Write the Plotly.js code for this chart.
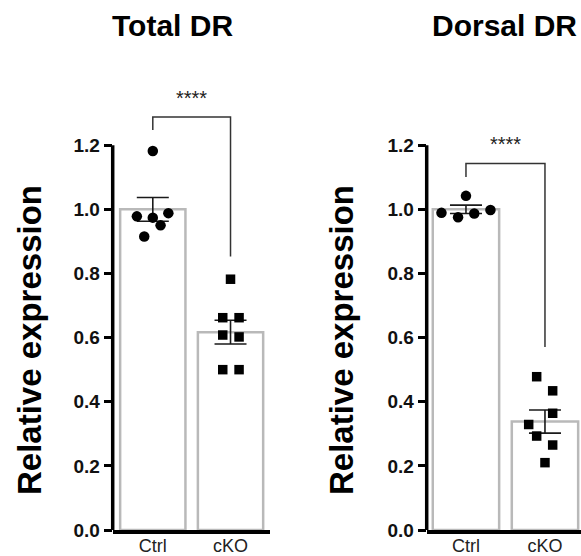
<!DOCTYPE html>
<html><head><meta charset="utf-8">
<script src="https://cdn.plot.ly/plotly-3.0.1.min.js"></script>
<style>html,body{margin:0;padding:0;background:#fff}</style>
</head><body><div id="chart" style="width:581px;height:556px"></div>
<script>
// ---- data ----
const categories = ['Ctrl', 'cKO'];
const panelTitles = ['Total DR', 'Dorsal DR'];
const yAxisTitle = 'Relative expression';
const yTicks = [0, 0.2, 0.4, 0.6, 0.8, 1.0, 1.2];

const totalMeans = [1.0, 0.617];
const totalSEM = [0.037, 0.037];
const totalCtrl = [1.182, 0.978, 0.974, 0.988, 0.950, 0.915];
const totalCtrlJitter = [0, -0.205, 0, 0.2, 0.1, -0.11];
const totalCKO = [0.782, 0.662, 0.662, 0.608, 0.602, 0.500, 0.500];
const totalCKOJitter = [0, -0.1, 0.11, -0.1, 0.11, -0.1, 0.11];

const dorsalMeans = [1.0, 0.338];
const dorsalSEM = [0.013, 0.036];
const dorsalCtrl = [1.042, 0.989, 0.975, 0.987, 0.998];
const dorsalCtrlJitter = [0, -0.31, -0.10, 0.105, 0.31];
const dorsalCKO = [0.478, 0.434, 0.364, 0.329, 0.293, 0.265, 0.210];
const dorsalCKOJitter = [-0.105, 0.0975, 0.0975, -0.206, -0.105, 0.0975, 0];

const significance = ['****', '****'];
// bracket levels: [top, left leg end, right leg end]
const totalBracket = [1.288, 1.247, 0.853];
const dorsalBracket = [1.143, 1.101, 0.571];

// ---- build ----
const panels = [
  {means: totalMeans, sem: totalSEM, ctrl: totalCtrl, ctrlJ: totalCtrlJitter, cko: totalCKO, ckoJ: totalCKOJitter, br: totalBracket, xa: 'x', ya: 'y'},
  {means: dorsalMeans, sem: dorsalSEM, ctrl: dorsalCtrl, ctrlJ: dorsalCtrlJitter, cko: dorsalCKO, ckoJ: dorsalCKOJitter, br: dorsalBracket, xa: 'x2', ya: 'y2'}
];

const FONT = 'Liberation Sans, Arial, sans-serif';
const traces = [];
const shapes = [];
const annotations = [];
const idx = categories.map((c, i) => i);

panels.forEach((p, k) => {
  traces.push({
    type: 'bar', x: idx, y: p.means, width: 0.84, xaxis: p.xa, yaxis: p.ya,
    marker: {color: '#ffffff', line: {color: '#b9b9b9', width: 2.5}},
    error_y: {type: 'data', array: p.sem, visible: true, color: '#1a1a1a', thickness: 1.6, width: 16},
    hoverinfo: 'skip', showlegend: false
  });
  traces.push({
    type: 'scatter', mode: 'markers', xaxis: p.xa, yaxis: p.ya, cliponaxis: false,
    x: p.ctrlJ.map(j => idx[0] + j), y: p.ctrl,
    marker: {symbol: 'circle', size: 10.5, color: '#000'}, showlegend: false
  });
  traces.push({
    type: 'scatter', mode: 'markers', xaxis: p.xa, yaxis: p.ya, cliponaxis: false,
    x: p.ckoJ.map(j => idx[1] + j), y: p.cko,
    marker: {symbol: 'square', size: 9.5, color: '#000'}, showlegend: false
  });
  // y axis line from 0 to top tick
  shapes.push({type: 'line', xref: p.xa + ' domain', yref: p.ya, x0: 0, x1: 0,
    y0: yTicks[0], y1: yTicks[yTicks.length - 1], line: {color: '#000', width: 3.5}});
  // significance bracket
  shapes.push({type: 'path', xref: p.xa, yref: p.ya,
    path: `M ${idx[0]},${p.br[1]} V ${p.br[0]} H ${idx[1]} V ${p.br[2]}`,
    line: {color: '#333', width: 1.5}});
  annotations.push({xref: p.xa, yref: p.ya, x: (idx[0] + idx[1]) / 2, y: p.br[0],
    text: significance[k], showarrow: false, yanchor: 'bottom', yshift: 6,
    font: {family: FONT, size: 20, color: '#222'}});
});

const plotTop = 65, plotBottom = 530;
const pxToPaperY = py => (plotBottom - py) / (plotBottom - plotTop);
const W = 581;

annotations.push({xref: 'paper', yref: 'paper', x: 172.5 / W, y: pxToPaperY(25), text: panelTitles[0],
  showarrow: false, xanchor: 'center', yanchor: 'middle',
  font: {family: FONT, size: 30, color: '#000', weight: 'bold'}});
annotations.push({xref: 'paper', yref: 'paper', x: 504 / W, y: pxToPaperY(25), text: panelTitles[1],
  showarrow: false, xanchor: 'center', yanchor: 'middle',
  font: {family: FONT, size: 30, color: '#000', weight: 'bold'}});
[30, 342].forEach(px => annotations.push({xref: 'paper', yref: 'paper', x: px / W, y: pxToPaperY(340),
  text: yAxisTitle, textangle: -90, showarrow: false, xanchor: 'center', yanchor: 'middle',
  font: {family: FONT, size: 33, color: '#000', weight: 'bold'}}));

const xCommon = {
  showline: true, linecolor: '#000', linewidth: 3.5, showgrid: false, zeroline: false,
  ticks: '', tickvals: idx, ticktext: categories, ticklabelstandoff: -3,
  tickfont: {family: FONT, size: 18, color: '#222'}
};
const yCommon = {
  range: [0, 1.45], showline: false, showgrid: false, zeroline: false,
  ticks: 'outside', ticklen: 8, tickwidth: 3, tickcolor: '#000',
  tickvals: yTicks, tickformat: '.1f',
  tickfont: {family: FONT, size: 19, color: '#111', weight: 'bold'}
};

const layout = {
  width: 581, height: 556,
  margin: {l: 0, r: 0, t: plotTop, b: 556 - plotBottom},
  paper_bgcolor: '#fff', plot_bgcolor: 'rgba(0,0,0,0)',
  showlegend: false,
  xaxis: Object.assign({}, xCommon, {domain: [112.7 / W, 270 / W], range: [-0.516, 1.508], anchor: 'y'}),
  yaxis: Object.assign({}, yCommon, {anchor: 'x'}),
  xaxis2: Object.assign({}, xCommon, {domain: [426.7 / W, 1], range: [-0.497, 1.456], anchor: 'y2'}),
  yaxis2: Object.assign({}, yCommon, {anchor: 'x2'}),
  shapes: shapes,
  annotations: annotations
};

Plotly.newPlot('chart', traces, layout, {staticPlot: true, displayModeBar: false});
</script>
</body></html>
